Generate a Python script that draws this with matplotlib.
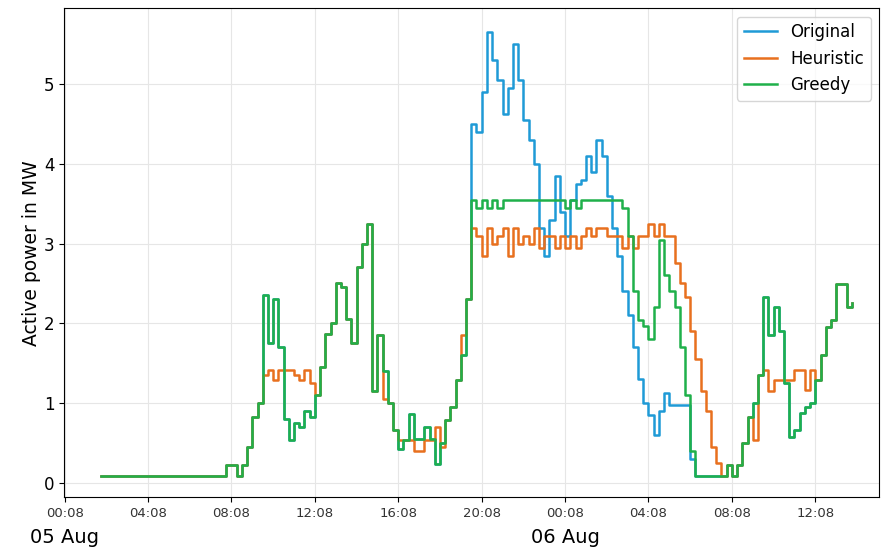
import numpy as np
import pandas as pd
import matplotlib
matplotlib.use("Agg")
import matplotlib.pyplot as plt
import matplotlib.dates as mdates

# 15 minute steps, 05 Aug 01:53 -> 06 Aug 13:53
greedy = [0.08, 0.08, 0.08, 0.08, 0.08, 0.08, 0.08, 0.08, 0.08, 0.08, 0.08, 0.08,
          0.08, 0.08, 0.08, 0.08, 0.08, 0.08, 0.08, 0.08, 0.08, 0.08, 0.08, 0.08,
          0.22, 0.22, 0.08, 0.22, 0.45, 0.83, 1.0, 2.35, 1.75, 2.3, 1.7, 0.8,
          0.54, 0.75, 0.7, 0.9, 0.83, 1.1, 1.45, 1.87, 2.0, 2.5, 2.45, 2.05,
          1.75, 2.7, 3.0, 3.25, 1.15, 1.85, 1.4, 1.0, 0.66, 0.42, 0.54, 0.86,
          0.55, 0.55, 0.7, 0.55, 0.24, 0.5, 0.79, 0.95, 1.29, 1.6, 2.3, 3.55,
          3.45, 3.55, 3.45, 3.55, 3.45, 3.55, 3.55, 3.55, 3.55, 3.55, 3.55, 3.55,
          3.55, 3.55, 3.55, 3.55, 3.55, 3.45, 3.55, 3.45, 3.55, 3.55, 3.55, 3.55,
          3.55, 3.55, 3.55, 3.55, 3.45, 3.1, 2.4, 2.04, 1.97, 1.8, 2.2, 3.05,
          2.6, 2.4, 2.2, 1.7, 1.1, 0.4, 0.08, 0.08, 0.08, 0.08, 0.08, 0.08,
          0.22, 0.08, 0.22, 0.5, 0.83, 1.0, 1.35, 2.33, 1.85, 2.2, 1.9, 1.25,
          0.58, 0.66, 0.87, 0.95, 1.0, 1.29, 1.6, 1.95, 2.04, 2.49, 2.49, 2.2,
          2.25]

original = [0.08, 0.08, 0.08, 0.08, 0.08, 0.08, 0.08, 0.08, 0.08, 0.08, 0.08, 0.08,
            0.08, 0.08, 0.08, 0.08, 0.08, 0.08, 0.08, 0.08, 0.08, 0.08, 0.08, 0.08,
            0.22, 0.22, 0.08, 0.22, 0.45, 0.83, 1.0, 2.35, 1.75, 2.3, 1.7, 0.8,
            0.54, 0.75, 0.7, 0.9, 0.83, 1.1, 1.45, 1.87, 2.0, 2.5, 2.45, 2.05,
            1.75, 2.7, 3.0, 3.25, 1.15, 1.85, 1.4, 1.0, 0.66, 0.42, 0.54, 0.86,
            0.55, 0.55, 0.7, 0.55, 0.24, 0.5, 0.79, 0.95, 1.29, 1.6, 2.3, 4.5,
            4.4, 4.9, 5.65, 5.3, 5.05, 4.62, 4.95, 5.5, 5.05, 4.55, 4.3, 4.0,
            3.2, 2.85, 3.3, 3.85, 3.4, 3.1, 3.55, 3.75, 3.8, 4.1, 3.9, 4.3,
            4.1, 3.6, 3.2, 2.85, 2.4, 2.1, 1.7, 1.3, 1.0, 0.85, 0.6, 0.9,
            1.12, 0.97, 0.97, 0.97, 0.97, 0.3, 0.08, 0.08, 0.08, 0.08, 0.08, 0.08,
            0.22, 0.08, 0.22, 0.5, 0.83, 1.0, 1.35, 2.33, 1.85, 2.2, 1.9, 1.25,
            0.58, 0.66, 0.87, 0.95, 1.0, 1.29, 1.6, 1.95, 2.04, 2.49, 2.49, 2.2,
            2.25]

heuristic = [0.08, 0.08, 0.08, 0.08, 0.08, 0.08, 0.08, 0.08, 0.08, 0.08, 0.08, 0.08,
             0.08, 0.08, 0.08, 0.08, 0.08, 0.08, 0.08, 0.08, 0.08, 0.08, 0.08, 0.08,
             0.22, 0.22, 0.08, 0.22, 0.45, 0.83, 1.0, 1.35, 1.41, 1.29, 1.41, 1.41,
             1.41, 1.35, 1.29, 1.41, 1.25, 1.1, 1.45, 1.87, 2.0, 2.5, 2.45, 2.05,
             1.75, 2.7, 3.0, 3.25, 1.15, 1.85, 1.05, 1.0, 0.66, 0.54, 0.54, 0.54,
             0.4, 0.4, 0.54, 0.54, 0.7, 0.45, 0.79, 0.95, 1.29, 1.85, 2.3, 3.2,
             3.1, 2.85, 3.2, 3.0, 3.1, 3.2, 2.85, 3.2, 3.0, 3.1, 3.0, 3.2,
             2.95, 3.1, 3.1, 2.95, 3.1, 2.95, 3.1, 2.95, 3.1, 3.2, 3.1, 3.2,
             3.2, 3.1, 3.1, 3.1, 2.95, 3.1, 2.95, 3.1, 3.1, 3.25, 3.1, 3.25,
             3.1, 3.1, 2.75, 2.5, 2.33, 1.9, 1.55, 1.15, 0.9, 0.45, 0.25, 0.08,
             0.22, 0.08, 0.22, 0.5, 0.83, 0.54, 1.35, 1.41, 1.15, 1.29, 1.29, 1.29,
             1.29, 1.41, 1.41, 1.16, 1.41, 1.29, 1.6, 1.95, 2.04, 2.49, 2.49, 2.2,
             2.25]

times = pd.date_range("2019-08-05 01:53", periods=len(greedy), freq="15min")
tick_times = pd.date_range("2019-08-05 00:08", periods=10, freq="4h")
day_labels = ["2019-08-05 00:08", "2019-08-06 00:08"]

fig, ax = plt.subplots(figsize=(8.81, 5.53), dpi=100)
fig.subplots_adjust(left=0.073, right=0.998, bottom=0.101, top=0.985)

ax.plot(times, original, color="#1f9ad6", lw=1.8, drawstyle="steps-post", label="Original")
ax.plot(times, heuristic, color="#e8701e", lw=1.8, drawstyle="steps-post", label="Heuristic")
ax.plot(times, greedy, color="#1fb04a", lw=1.8, drawstyle="steps-post", label="Greedy")

ax.set_xlim(pd.Timestamp("2019-08-05 00:07"), pd.Timestamp("2019-08-06 15:12"))
ax.set_ylim(-0.18, 5.95)
ax.set_xticks(tick_times)
ax.xaxis.set_major_formatter(mdates.DateFormatter("%H:%M"))
ax.tick_params(axis="x", labelsize=9.5, labelcolor="#333333")
ax.tick_params(axis="y", labelsize=12)
ax.set_ylabel("Active power in MW", fontsize=13.5, labelpad=2)
ax.grid(True, color="#e6e6e6", lw=0.8)

for d in day_labels:
    t = pd.Timestamp(d)
    ax.annotate(t.strftime("%d %b"), xy=(mdates.date2num(t), 0), xycoords=("data", "axes fraction"),
                xytext=(0, -22), textcoords="offset points", ha="center", va="top", fontsize=14)

ax.legend(loc="upper right", fontsize=12)
plt.savefig("out.png")
